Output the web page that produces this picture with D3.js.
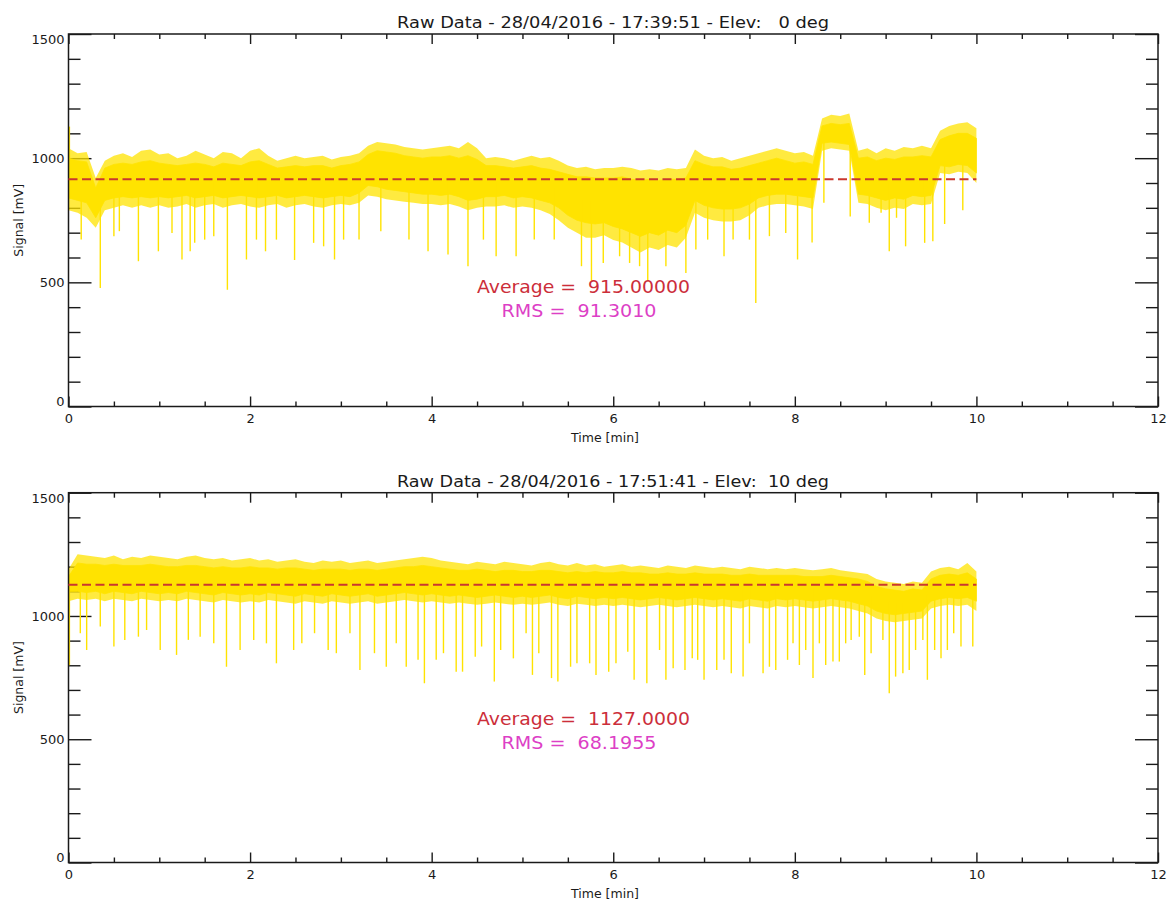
<!DOCTYPE html>
<html>
<head>
<meta charset="utf-8">
<script src="https://cdn.jsdelivr.net/npm/d3@7"></script>
<style>
  html, body { margin: 0; padding: 0; background: #fff; }
  text { font-family: "DejaVu Sans", sans-serif; fill: #1a1a1a; }
</style>
</head>
<body>
<script>
// ---- Signal record: envelopes sampled every TIME_STEP minutes ----
// peak/trough = extent of the dense noise, top/bottom = its solid core
const TIME_STEP = 0.1;

// Scan 1: elevation 0 deg
const elev0Title = "Raw Data - 28/04/2016 - 17:39:51 - Elev:   0 deg";
const elev0Peak = [
  1040,1020,1025, 920, 990,1010,1020,1005,1030,1035,
  1015,1020,1000,1010,1030,1015,1000,1025,1020,1000,
  1030,1040,1010, 990,1000,1010,1000,1005,1010, 995,
  1005,1010,1020,1050,1065,1060,1055,1045,1040,1035,
  1040,1045,1050,1040,1065,1040,1000,1005,1000, 990,
  1000,1010,1000,1005, 990, 970, 960, 965, 955, 960,
   960, 965, 960, 950, 955, 950, 960, 955, 960,1035,
  1010,1000,1005, 990,1000,1010,1020,1030,1040,1030,
  1020,1025,1010,1160,1175,1170,1180,1030,1040,1020,
  1040,1030,1045,1040,1050,1040,1110,1130,1140,1145,
  1120
];
const elev0Top = [
  1000, 990, 985, 880, 960, 975, 980, 975, 985, 990,
   980, 975, 970, 975, 980, 975, 965, 980, 975, 970,
   985, 990, 975, 960, 965, 970, 965, 970, 970, 960,
   970, 975, 985,1015,1030,1025,1020,1010,1005,1000,
  1005,1005,1010,1000,1010, 995, 970, 970, 965, 960,
   965, 970, 960, 955, 945, 935, 925, 925, 920, 920,
   920, 925, 915, 910, 915, 910, 915, 915, 920, 990,
   975, 965, 965, 955, 960, 970, 980, 990,1000, 990,
   980, 985, 975,1130,1140,1135,1140,1000,1005, 990,
  1000, 995,1005,1005,1010,1005,1075,1090,1100,1100,
  1080
];
const elev0Bottom = [
   840, 830, 820, 760, 830, 840, 845, 840, 845, 840,
   845, 840, 845, 850, 840, 845, 850, 840, 845, 850,
   845, 840, 845, 850, 840, 845, 850, 845, 840, 845,
   850, 845, 860, 890, 885, 875, 870, 865, 860, 855,
   855, 850, 855, 845, 830, 835, 845, 845, 850, 840,
   845, 840, 830, 820, 800, 770, 750, 740, 735, 740,
   725, 715, 700, 685, 700, 690, 710, 700, 730, 830,
   810, 800, 795, 795, 800, 815, 840, 850, 855, 855,
   850, 845, 840,1060,1065,1060,1055, 855, 850, 840,
   830, 840, 835, 850, 845, 850, 970, 965, 975, 970,
   940
];
const elev0Trough = [
   790, 780, 760, 720, 790, 800, 810, 800, 810, 800,
   810, 800, 805, 815, 800, 810, 815, 800, 810, 815,
   805, 800, 810, 815, 800, 810, 815, 805, 800, 810,
   815, 810, 820, 850, 845, 835, 830, 825, 820, 815,
   815, 810, 815, 805, 790, 800, 805, 805, 810, 800,
   805, 800, 790, 775, 750, 720, 700, 680, 680, 690,
   670, 660, 640, 620, 640, 630, 650, 640, 680, 780,
   760, 750, 745, 745, 750, 770, 800, 810, 815, 815,
   810, 805, 795,1030,1040,1035,1030, 820, 815, 800,
   790, 800, 795, 815, 810, 815, 940, 935, 945, 940,
   900
];
// [time (min), extreme value (mV)]
const elev0Spikes = [
  [0.01,1127],[0.14,672],[0.35,477],[0.50,686],[0.56,706],[0.77,585],[0.99,625],
  [1.14,699],[1.25,592],[1.34,625],[1.39,659],[1.50,672],[1.60,686],[1.75,470],
  [1.96,592],[2.07,672],[2.17,625],[2.29,672],[2.49,590],[2.70,659],[2.81,645],
  [2.93,592],[3.03,672],[3.20,672],[3.44,706],[3.75,672],[3.96,625],[4.18,612],
  [4.40,565],[4.57,672],[4.71,605],[4.93,605],[5.13,672],[5.35,672],[5.65,565],
  [5.76,504],[5.89,578],[6.07,605],[6.18,578],[6.29,565],[6.38,504],[6.58,565],
  [6.80,538],[6.91,632],[7.04,672],[7.22,605],[7.32,672],[7.50,672],[7.57,417],
  [7.72,686],[7.90,699],[8.03,592],[8.19,660],[8.32,820],[8.61,765],[8.82,740],
  [8.95,780],[9.04,625],[9.12,760],[9.22,645],[9.43,659],[9.52,665],[9.65,735],
  [9.85,790]
];
const elev0Average = 915.0;
const elev0Rms = 91.3010;

// Scan 2: elevation 10 deg
const elev10Title = "Raw Data - 28/04/2016 - 17:51:41 - Elev:  10 deg";
const elev10Peak = [
  1190,1250,1245,1240,1235,1245,1230,1240,1235,1245,
  1240,1235,1230,1240,1245,1235,1230,1235,1225,1230,
  1235,1225,1230,1220,1225,1230,1220,1215,1225,1220,
  1225,1215,1220,1225,1215,1220,1225,1230,1235,1240,
  1235,1225,1220,1215,1210,1220,1215,1210,1220,1215,
  1210,1205,1215,1220,1210,1205,1215,1205,1210,1200,
  1205,1210,1200,1205,1200,1195,1205,1200,1195,1205,
  1200,1195,1200,1195,1190,1200,1195,1190,1195,1190,
  1195,1190,1185,1190,1195,1185,1180,1175,1170,1150,
  1140,1135,1130,1140,1135,1180,1195,1200,1190,1215,
  1180
];
const elev10Top = [
  1160,1215,1210,1210,1205,1210,1205,1205,1205,1210,
  1205,1200,1200,1205,1205,1200,1195,1200,1195,1195,
  1200,1195,1195,1190,1195,1195,1190,1185,1190,1190,
  1190,1185,1190,1190,1185,1190,1195,1200,1200,1205,
  1200,1195,1190,1185,1185,1190,1185,1180,1185,1185,
  1180,1180,1185,1185,1180,1175,1180,1175,1180,1175,
  1175,1180,1175,1175,1170,1170,1175,1170,1170,1175,
  1170,1170,1170,1165,1165,1170,1165,1165,1165,1165,
  1165,1160,1160,1160,1165,1160,1155,1150,1140,1120,
  1110,1105,1100,1110,1105,1150,1165,1170,1165,1175,
  1150
];
const elev10Bottom = [
  1100,1100,1095,1100,1090,1100,1095,1090,1100,1095,
  1090,1095,1090,1100,1095,1090,1085,1095,1090,1085,
  1090,1085,1095,1090,1085,1080,1090,1085,1080,1090,
  1085,1080,1085,1090,1080,1085,1090,1095,1090,1085,
  1090,1085,1080,1085,1080,1075,1080,1085,1080,1075,
  1080,1075,1080,1085,1075,1070,1080,1075,1070,1075,
  1070,1075,1070,1065,1070,1075,1070,1065,1070,1075,
  1070,1065,1070,1065,1060,1070,1065,1060,1070,1065,
  1070,1065,1060,1065,1070,1065,1060,1050,1040,1020,
  1010,1005,1010,1015,1020,1060,1070,1075,1070,1075,
  1060
];
const elev10Trough = [
  1060,1070,1065,1070,1060,1070,1065,1060,1070,1065,
  1060,1065,1060,1070,1065,1060,1055,1065,1060,1055,
  1060,1055,1065,1060,1055,1050,1060,1055,1050,1060,
  1055,1050,1055,1060,1050,1055,1060,1065,1060,1055,
  1060,1055,1050,1055,1050,1045,1050,1055,1050,1045,
  1050,1045,1050,1055,1045,1040,1050,1045,1040,1045,
  1040,1045,1040,1035,1040,1045,1040,1035,1040,1045,
  1040,1035,1040,1035,1030,1040,1035,1030,1040,1035,
  1040,1035,1030,1035,1040,1035,1030,1020,1010, 990,
   980, 975, 980, 985, 990,1030,1040,1045,1040,1045,
  1020
];
const elev10Spikes = [
  [0.01,800],[0.13,930],[0.20,862],[0.35,957],[0.50,876],[0.62,903],[0.77,916],
  [0.86,943],[1.01,862],[1.19,842],[1.32,903],[1.45,916],[1.60,889],[1.74,794],
  [1.89,862],[2.04,903],[2.18,889],[2.29,808],[2.48,862],[2.57,889],[2.71,930],
  [2.86,862],[2.95,849],[3.10,930],[3.21,781],[3.37,849],[3.50,794],[3.61,889],
  [3.72,794],[3.85,822],[3.92,727],[4.05,822],[4.13,849],[4.27,774],[4.34,774],
  [4.48,835],[4.55,876],[4.69,734],[4.76,862],[4.90,828],[5.04,930],[5.11,761],
  [5.18,849],[5.32,748],[5.39,734],[5.53,794],[5.60,808],[5.74,808],[5.81,761],
  [5.95,774],[6.03,808],[6.16,855],[6.23,741],[6.37,727],[6.51,862],[6.58,741],
  [6.66,788],[6.79,781],[6.87,828],[6.93,822],[7.00,741],[7.14,781],[7.22,822],
  [7.30,768],[7.43,754],[7.50,889],[7.65,768],[7.72,794],[7.79,781],[7.92,822],
  [7.98,889],[8.05,801],[8.12,862],[8.20,748],[8.27,889],[8.34,801],[8.42,815],
  [8.49,815],[8.56,889],[8.62,903],[8.71,916],[8.77,761],[8.84,849],[8.97,903],
  [9.04,687],[9.11,754],[9.19,768],[9.26,781],[9.33,862],[9.41,903],[9.46,741],
  [9.54,862],[9.61,828],[9.68,862],[9.75,930],[9.83,876],[9.96,876]
];
const elev10Average = 1127.0;
const elev10Rms = 68.1955;

// ---- Axis ticks ----
const xMajorTicks = [0, 2, 4, 6, 8, 10, 12];
const xMinorTicks = [0.5, 1, 1.5, 2.5, 3, 3.5, 4.5, 5, 5.5, 6.5, 7, 7.5, 8.5, 9, 9.5, 10.5, 11, 11.5];
const yMajorTicks = [0, 500, 1000, 1500];
const yMinorTicks = [100, 200, 300, 400, 600, 700, 800, 900, 1100, 1200, 1300, 1400];

const xLabel = "Time [min]";
const yLabel = "Signal [mV]";

// ---- Styling ----
const TRACE = "#ffe300";
const AVG_LINE = "#c9382f";
const AVG_TEXT = "#cc2e3a";
const RMS_TEXT = "#dd3fc6";
const INK = "#1a1a1a";

const W = 1170, H = 900;
const svg = d3.select("body").append("svg")
  .attr("width", W).attr("height", H)
  .attr("xmlns", "http://www.w3.org/2000/svg");
svg.append("rect").attr("width", W).attr("height", H).attr("fill", "#fff");

const panels = [
  { title: elev0Title, peak: elev0Peak, top: elev0Top, bottom: elev0Bottom, trough: elev0Trough,
    spikes: elev0Spikes, avg: elev0Average, rms: elev0Rms,
    y0: 34, y1: 406.5, statY: 293, avgFmt: v => v.toFixed(5) },
  { title: elev10Title, peak: elev10Peak, top: elev10Top, bottom: elev10Bottom, trough: elev10Trough,
    spikes: elev10Spikes, avg: elev10Average, rms: elev10Rms,
    y0: 492.7, y1: 862.5, statY: 725, avgFmt: v => v.toFixed(4) }
];

const x = d3.scaleLinear().domain([0, 12]).range([68.5, 1158]);

panels.forEach(p => {
  const y = d3.scaleLinear().domain([0, 1500]).range([p.y1, p.y0]);
  const g = svg.append("g");

  // Ticks on all four sides (under the trace)
  const axes = g.append("g").attr("class", "axes");
  const addAxis = (gen, tx, ty) => {
    const a = axes.append("g").attr("transform", `translate(${tx},${ty})`).call(gen);
    a.select(".domain").remove();
    a.selectAll(".tick line").attr("stroke", INK).attr("stroke-width", 1.4);
    a.selectAll("text").attr("fill", INK).style("font-size", "13px")
      .style("font-family", '"DejaVu Sans", sans-serif');
    return a;
  };
  addAxis(d3.axisLeft(y).tickValues(yMinorTicks).tickSize(-12).tickFormat(""), x(0), 0);
  addAxis(d3.axisRight(y).tickValues(yMinorTicks).tickSize(-12).tickFormat(""), x(12), 0);
  const yl = addAxis(d3.axisLeft(y).tickValues(yMajorTicks).tickSize(-23).tickPadding(4)
    .tickFormat(d3.format("d")), x(0), 0);
  yl.selectAll(".tick text").attr("dy", d => d === 1500 ? "0.72em" : d === 0 ? "-0.05em" : "0.32em");
  addAxis(d3.axisRight(y).tickValues(yMajorTicks).tickSize(-23).tickFormat(""), x(12), 0);
  addAxis(d3.axisBottom(x).tickValues(xMinorTicks).tickSize(-5).tickFormat(""), 0, p.y1);
  addAxis(d3.axisTop(x).tickValues(xMinorTicks).tickSize(-5).tickFormat(""), 0, p.y0);
  addAxis(d3.axisBottom(x).tickValues(xMajorTicks).tickSize(-10).tickPadding(7)
    .tickFormat(d3.format("d")), 0, p.y1);
  addAxis(d3.axisTop(x).tickValues(xMajorTicks).tickSize(-10).tickFormat(""), 0, p.y0);

  // Trace: noise fringe (partly filled), solid core, then the isolated excursions
  const rows = p.peak.map((pk, i) => ({
    t: +(i * TIME_STEP).toFixed(2), pk, tp: p.top[i], bt: p.bottom[i], tr: p.trough[i]
  }));
  const band = (lo, hi) => d3.area().x(d => x(d.t)).y0(d => y(d[lo])).y1(d => y(d[hi]));
  const tg = g.append("g").attr("class", "trace");
  tg.append("path").datum(rows).attr("d", band("tr", "pk"))
    .attr("fill", TRACE).attr("fill-opacity", 0.75);
  tg.append("path").datum(rows).attr("d", band("bt", "tp"))
    .attr("fill", TRACE).attr("stroke", TRACE).attr("stroke-width", 0.8);

  const coreMid = t => {
    const i = Math.min(rows.length - 2, Math.floor(t / TIME_STEP));
    const f = (t - rows[i].t) / TIME_STEP;
    const a = (rows[i].tp + rows[i].bt) / 2, b = (rows[i + 1].tp + rows[i + 1].bt) / 2;
    return a + f * (b - a);
  };
  tg.append("g").selectAll("line").data(p.spikes).join("line")
    .attr("x1", d => x(d[0])).attr("x2", d => x(d[0]))
    .attr("y1", d => y(coreMid(d[0])))
    .attr("y2", d => y(d[1]))
    .attr("stroke", TRACE).attr("stroke-width", 1.4);

  // Frame
  g.append("rect").attr("x", x(0)).attr("y", p.y0).attr("width", x(12) - x(0)).attr("height", p.y1 - p.y0)
    .attr("fill", "none").attr("stroke", INK).attr("stroke-width", 1.5);

  // Average level
  g.append("line").attr("x1", x(0)).attr("x2", x(10)).attr("y1", y(p.avg)).attr("y2", y(p.avg))
    .attr("stroke", AVG_LINE).attr("stroke-width", 2).attr("stroke-dasharray", "9,4.5");

  // Title
  g.append("text").attr("x", 613).attr("y", p.y0 - 6).attr("text-anchor", "middle")
    .attr("textLength", 432).attr("lengthAdjust", "spacingAndGlyphs")
    .style("white-space", "pre").style("font-size", "15px").text(p.title);

  // Axis titles
  g.append("text").attr("x", 605).attr("y", p.y1 + 35).attr("text-anchor", "middle")
    .style("font-size", "12.5px").text(xLabel);
  g.append("text").attr("transform", `translate(23,${(p.y0 + p.y1) / 2}) rotate(-90)`)
    .attr("text-anchor", "middle").style("font-size", "12.5px").text(yLabel);

  // Statistics
  g.append("text").attr("x", 583.5).attr("y", p.statY).attr("text-anchor", "middle")
    .attr("textLength", 213).attr("lengthAdjust", "spacingAndGlyphs")
    .style("white-space", "pre").style("font-size", "17px").style("fill", AVG_TEXT)
    .text(`Average =  ${p.avgFmt(p.avg)}`);
  g.append("text").attr("x", 579).attr("y", p.statY + 24).attr("text-anchor", "middle")
    .attr("textLength", 155).attr("lengthAdjust", "spacingAndGlyphs")
    .style("white-space", "pre").style("font-size", "17px").style("fill", RMS_TEXT)
    .text(`RMS =  ${p.rms.toFixed(4)}`);
});
</script>
</body>
</html>
